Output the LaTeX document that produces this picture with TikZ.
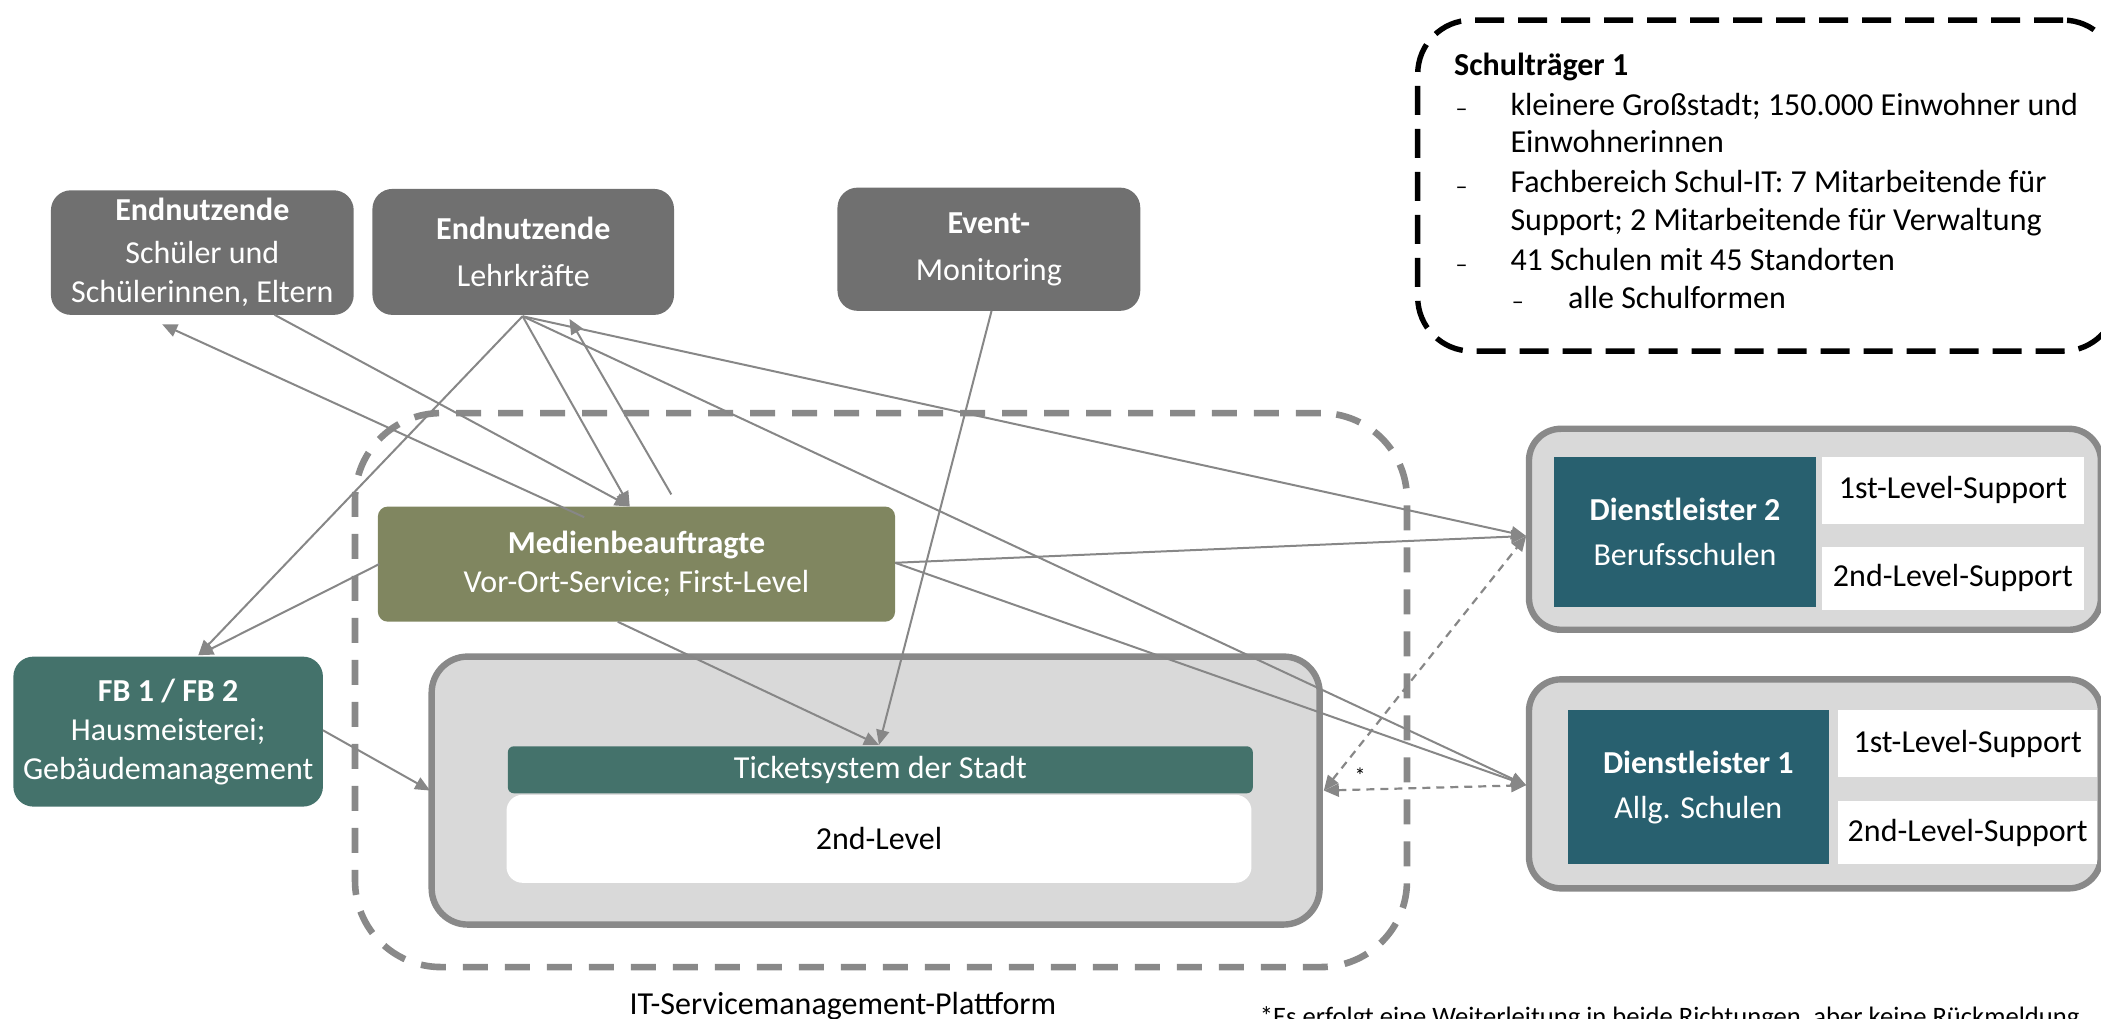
\documentclass[tikz,border=0pt]{standalone}
\usepackage{fontspec}
\setmainfont{Carlito}
\usetikzlibrary{arrows.meta}
\definecolor{boxgray}{HTML}{707070}
\definecolor{olive}{HTML}{808660}
\definecolor{teal1}{HTML}{44726B}
\definecolor{teal2}{HTML}{28606F}
\definecolor{lightg}{HTML}{D9D9D9}
\definecolor{borderg}{HTML}{898989}
\definecolor{arrowg}{HTML}{878787}
\tikzset{
  txt/.style={font=\fontsize{16}{19.5}\selectfont},
  graybox/.style={txt, fill=boxgray, text=white, rounded corners=10pt, align=center, inner sep=0pt},
  whitebox/.style={txt, fill=white, text=black, align=center, inner sep=0pt},
  tealbox/.style={txt, fill=teal2, text=white, align=center, inner sep=0pt},
  outerbox/.style={fill=lightg, draw=borderg, line width=3.2pt, rounded corners=16pt, inner sep=0pt},
  ln/.style={draw=arrowg, line width=1pt},
  arr/.style={ln, -{Triangle[length=7.5pt,width=6.5pt]}},
  darr/.style={draw=arrowg, line width=1.1pt, dash pattern=on 4pt off 3pt,
     {Triangle[length=7.5pt,width=6.5pt]}-{Triangle[length=7.5pt,width=6.5pt]}},
  sttext/.style={txt, anchor=base west, inner sep=0pt},
  bul/.style={anchor=base west, inner sep=0pt, font=\fontsize{12}{12}\selectfont},
}
\begin{document}
\begin{tikzpicture}[x=0.67pt,y=-0.67pt]
\useasboundingbox (0,0) rectangle (1568,760);

% Schultraeger
\node[draw=black, line width=2.7pt, dash pattern=on 14.5pt off 7pt, rounded corners=27pt,
      minimum width=349.7pt, minimum height=165.5pt, inner sep=0pt] (traeger) at (1319,138.5) {};
\node[sttext, font=\fontsize{16}{19.5}\selectfont\bfseries] (t0) at (1085,56) {Schulträger 1};
\node[bul] (b1) at (1086,87) {–};
\node[sttext] (t1) at (1127,86) {kleinere Großstadt; 150.000 Einwohner und};
\node[sttext] (t2) at (1127,114) {Einwohnerinnen};
\node[bul] (b3) at (1086,145) {–};
\node[sttext] (t3) at (1127,144) {Fachbereich Schul-IT: 7 Mitarbeitende für};
\node[sttext] (t4) at (1127,172) {Support; 2 Mitarbeitende für Verwaltung};
\node[bul] (b5) at (1086,203) {–};
\node[sttext] (t5) at (1127,202) {41 Schulen mit 45 Standorten};
\node[bul] (b6) at (1128,231) {–};
\node[sttext] (t6) at (1170,230) {alle Schulformen};

% Plattform
\node[draw=borderg, line width=3.3pt, dash pattern=on 12.5pt off 8.5pt, rounded corners=43pt,
      minimum width=526pt, minimum height=277pt, inner sep=0pt] (platt) at (657.5,515) {};
\node[txt, anchor=base, inner sep=0pt] (plattlabel) at (629,757) {IT-Servicemanagement-Plattform};

% Top boxes
\node[graybox, minimum width=151.4pt, minimum height=62.3pt] (schueler) at (151,188.5)
  {\textbf{Endnutzende}\\[2pt] Schüler und\\ Schülerinnen, Eltern};
\node[graybox, minimum width=150.8pt, minimum height=63pt] (lehrer) at (390.5,188)
  {\textbf{Endnutzende}\\[4pt] Lehrkräfte};
\node[graybox, minimum width=151.4pt, minimum height=61.6pt] (event) at (738,186)
  {\textbf{Event-}\\[4pt] Monitoring};

% Medienbeauftragte
\node[graybox, fill=olive, rounded corners=5pt, minimum width=258.6pt, minimum height=57.6pt] (medien) at (475,421)
  {\textbf{Medienbeauftragte}\\ Vor-Ort-Service; First-Level};

% FB
\node[graybox, fill=teal1, minimum width=154.8pt, minimum height=75pt] (fb) at (125.5,546)
  {\textbf{FB 1 / FB 2}\\ Hausmeisterei;\\ Gebäudemanagement};

% Inner system box
\node[outerbox, rounded corners=18pt, minimum width=444pt, minimum height=134pt] (inner) at (653.5,590) {};
\node[txt, fill=teal1, text=white, rounded corners=3pt, minimum width=372.5pt, minimum height=23.5pt, inner sep=0pt] (ticket) at (657,574.5) {Ticketsystem der Stadt};
\node[whitebox, rounded corners=8pt, minimum width=372.5pt, minimum height=44pt] (second) at (656,626) {2nd-Level};

% Dienstleister 2
\node[outerbox, minimum width=286pt, minimum height=100.5pt] (dl2o) at (1354.5,395) {};
\node[tealbox, minimum width=130.6pt, minimum height=75pt] (dl2) at (1257.5,397)
  {\textbf{Dienstleister 2}\\[3pt] Berufsschulen};
\node[whitebox, minimum width=130.6pt, minimum height=33.5pt] (dl2a) at (1457.5,366) {1st-Level-Support};
\node[whitebox, minimum width=130.6pt, minimum height=31.5pt] (dl2b) at (1457.5,431.5) {2nd-Level-Support};

% Dienstleister 1
\node[outerbox, minimum width=286pt, minimum height=104.5pt] (dl1o) at (1354.5,585) {};
\node[tealbox, minimum width=130.6pt, minimum height=77pt] (dl1) at (1267.5,587.5)
  {\textbf{Dienstleister 1}\\[3pt] Allg. Schulen};
\node[whitebox, minimum width=129.3pt, minimum height=33.5pt] (dl1a) at (1468.5,555) {1st-Level-Support};
\node[whitebox, minimum width=129.3pt, minimum height=31.5pt] (dl1b) at (1468.5,621.5) {2nd-Level-Support};

% attach points
\coordinate (sB1) at (205,235);
\coordinate (sB2) at (121,242);
\coordinate (lB) at (390,236);
\coordinate (lB2) at (425,238);
\coordinate (mT1) at (470,378);
\coordinate (mT2) at (436,386);
\coordinate (mT3) at (501,369);
\coordinate (mL) at (283,421);
\coordinate (mR) at (668,420);
\coordinate (mB) at (461,464);
\coordinate (fT) at (148,489);
\coordinate (fR) at (241,545);
\coordinate (iL) at (321,590);
\coordinate (tT) at (656,556);
\coordinate (eB) at (740,232);
\coordinate (d2L) at (1139,400);
\coordinate (d1L) at (1139,586);
\coordinate (iR) at (988,590);

% connectors
\draw[arr] (sB1) -- (mT1);
\draw[arr] (mT2) -- (sB2);
\draw[arr] (lB) -- (mT1);
\draw[arr] (mT3) -- (lB2);
\draw[arr] (lB) -- (fT);
\draw[arr] (mL) -- (fT);
\draw[arr] (lB) -- (d2L);
\draw[arr] (lB) -- (d1L);
\draw[arr] (mR) -- (d2L);
\draw[arr] (mR) -- (d1L);
\draw[arr] (mB) -- (tT);
\draw[arr] (eB) -- (tT);
\draw[arr] (fR) -- (iL);
\draw[darr] (iR) -- (d2L);
\draw[darr] (iR) -- (d1L);
\node[inner sep=0pt, font=\fontsize{11}{11}\selectfont] (star) at (1015,579) {*};

% footnote
\node[anchor=base west, inner sep=0pt, font=\fontsize{13.3}{15}\selectfont] (foot) at (940,765)
  {*Es erfolgt eine Weiterleitung in beide Richtungen, aber keine Rückmeldung};
\end{tikzpicture}
\end{document}
